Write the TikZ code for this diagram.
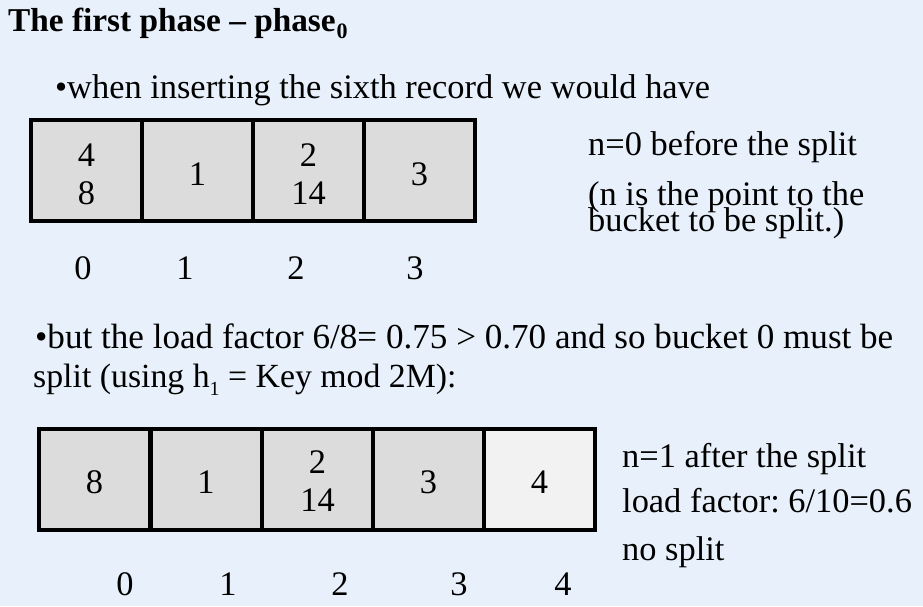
\documentclass[tikz,border=0pt]{standalone}
\usepackage{fontspec}
\setmainfont{Liberation Serif}
\frenchspacing
\definecolor{bg}{HTML}{E8F1FB}
\definecolor{cellgray}{HTML}{DCDCDC}
\definecolor{celllight}{HTML}{F2F2F2}
\newcommand{\bodyfont}{\fontsize{34.4}{38}\selectfont}
\newcommand{\tightfont}{\fontsize{34.4}{26}\selectfont\lineskiplimit=-60pt\relax}
\begin{document}
\begin{tikzpicture}[x=1pt,y=-1pt,
  cell/.style={draw=black, line width=4pt, fill=cellgray, minimum width=111pt,
    minimum height=101pt, inner sep=0pt},
  newcell/.style={cell, fill=celllight},
  val/.style={inner sep=0pt, align=center, font=\bodyfont},
  txt/.style={anchor=base west, inner sep=0pt, font=\bodyfont},
  idx/.style={anchor=base, inner sep=0pt, font=\bodyfont},
  title/.style={anchor=base west, inner sep=0pt, font=\fontsize{33.3}{38}\selectfont\bfseries}]
\fill[bg] (0,0) rectangle (923,606);
\useasboundingbox (0,0) rectangle (923,606);

\node[title] (ttl) at (8,31) {The first phase -- phase\kern1pt\raisebox{-0.22em}{\fontsize{22}{24}\selectfont\bfseries 0}};
\node[txt] (l1) at (55,98) {•when inserting the sixth record we would have};

% first table
\node[cell] (a0) at (86.5,170.5) {};
\node[cell] (a1) at (197.5,170.5) {};
\node[cell] (a2) at (308.5,170.5) {};
\node[cell] (a3) at (419.5,170.5) {};
\node[val] (a0t) at ([yshift=-4pt]a0.center) {4\\8};
\node[val] (a1t) at ([yshift=-4pt]a1.center) {1};
\node[val] (a2t) at ([yshift=-4pt]a2.center) {2\\14};
\node[val] (a3t) at ([yshift=-4pt]a3.center) {3};

\node[idx] (i0) at (83,279) {0};
\node[idx] (i1) at (185,279) {1};
\node[idx] (i2) at (296,279) {2};
\node[idx] (i3) at (415,279) {3};

\node[txt] (r1) at (588,155) {n=0 before the split};
\node[txt, align=left, font=\tightfont] (r2) at (588,231) {(n is the point to the\\bucket to be split.)};

\node[txt, font=\fontsize{35.1}{38}\selectfont] (l2) at (35,348) {•but the load factor 6/8= 0.75 > 0.70 and so bucket 0 must be};
\node[txt, font=\fontsize{33.8}{38}\selectfont] (l3) at (33,387) {split (using h\raisebox{-0.25em}{\fontsize{20}{22}\selectfont 1} = Key mod 2M):};

% second table
\node[cell] (b0) at (94.5,479.5) {};
\node[cell] (b1) at (206,479.5) {};
\node[cell] (b2) at (317.5,479.5) {};
\node[cell] (b3) at (428.5,479.5) {};
\node[newcell] (b4) at (539.5,479.5) {};
\node[val] (b0t) at ([yshift=-3pt]b0.center) {8};
\node[val] (b1t) at ([yshift=-3pt]b1.center) {1};
\node[val] (b2t) at ([yshift=-2pt]b2.center) {2\\14};
\node[val] (b3t) at ([yshift=-3pt]b3.center) {3};
\node[val] (b4t) at ([yshift=-3pt]b4.center) {4};

\node[idx] (j0) at (125,595) {0};
\node[idx] (j1) at (228,595) {1};
\node[idx] (j2) at (340,595) {2};
\node[idx] (j3) at (459,595) {3};
\node[idx] (j4) at (563,595) {4};

\node[txt] (s1) at (622,467) {n=1 after the split};
\node[txt] (s2) at (622,512) {load factor: 6/10=0.6};
\node[txt] (s3) at (622,560) {no split};
\end{tikzpicture}
\end{document}
